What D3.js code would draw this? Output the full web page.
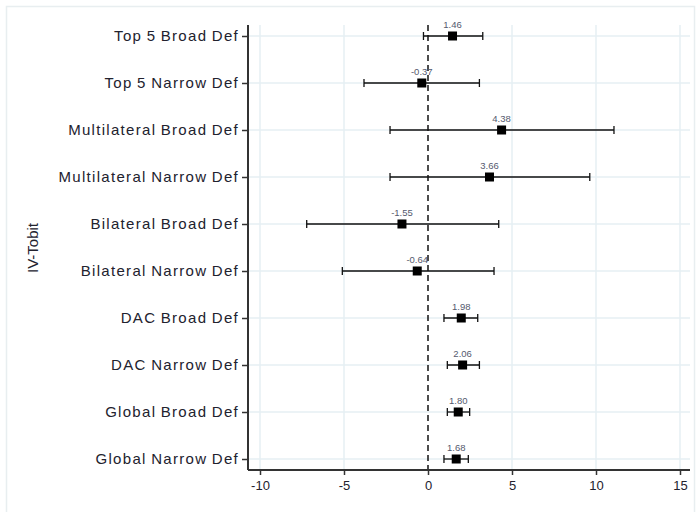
<!DOCTYPE html>
<html>
<head>
<meta charset="utf-8">
<script src="https://cdn.jsdelivr.net/npm/d3@7"></script>
<style>
  body { margin: 0; background: #fff; }
  text { font-family: "Liberation Sans", Arial, sans-serif; }
</style>
</head>
<body>
<script>
'use strict';

// chart data
const categories = [
  "Top 5 Broad Def", "Top 5 Narrow Def", "Multilateral Broad Def", "Multilateral Narrow Def",
  "Bilateral Broad Def", "Bilateral Narrow Def", "DAC Broad Def", "DAC Narrow Def",
  "Global Broad Def", "Global Narrow Def"
];
const estimates = [1.46, -0.37, 4.38, 3.66, -1.55, -0.64, 1.98, 2.06, 1.80, 1.68];
const ciLow = [-0.27, -3.81, -2.26, -2.26, -7.22, -5.10, 0.95, 1.15, 1.15, 0.95];
const ciHigh = [3.26, 3.06, 11.07, 9.63, 4.21, 3.93, 2.96, 3.06, 2.48, 2.40];
const xTicks = [-10, -5, 0, 5, 10, 15];
const yTitle = "IV-Tobit";

const width = 697, height = 512;
const plot = { left: 248, right: 690, top: 25, bottom: 470 };

const svg = d3.select('body').append('svg')
  .attr('width', width)
  .attr('height', height);

// outer frame
svg.append('rect')
  .attr('x', 6.5).attr('y', 6.5)
  .attr('width', 688).attr('height', 510)
  .attr('fill', 'none')
  .attr('stroke', '#e8eef0')
  .attr('stroke-width', 1.5);

const xScale = d3.scaleLinear()
  .domain([-10, 15])
  .range([260, 680]);

const yScale = d3.scalePoint()
  .domain(categories)
  .range([plot.top, plot.bottom])
  .padding(0.234);

// grid lines
svg.append('g').selectAll('line')
  .data(xTicks.filter(d => d !== 0))
  .enter().append('line')
  .attr('x1', d => xScale(d)).attr('x2', d => xScale(d))
  .attr('y1', plot.top).attr('y2', plot.bottom)
  .attr('stroke', '#e6eff3').attr('stroke-width', 1.5);

svg.append('g').selectAll('line')
  .data(categories)
  .enter().append('line')
  .attr('x1', plot.left).attr('x2', plot.right)
  .attr('y1', d => yScale(d)).attr('y2', d => yScale(d))
  .attr('stroke', '#e6eff3').attr('stroke-width', 1.5);

// dashed zero line
svg.append('line')
  .attr('x1', xScale(0)).attr('x2', xScale(0))
  .attr('y1', plot.top).attr('y2', plot.bottom)
  .attr('stroke', '#111').attr('stroke-width', 1.5)
  .attr('stroke-dasharray', '6,4');

// x axis
const xAxis = svg.append('g')
  .attr('transform', `translate(0, ${plot.bottom})`)
  .call(d3.axisBottom(xScale).tickValues(xTicks).tickFormat(d => String(d))
    .tickSize(5).tickPadding(6));
xAxis.select('.domain').attr('d', `M${plot.left},0H${plot.right}`);

// y axis
const yAxis = svg.append('g')
  .attr('transform', `translate(${plot.left}, 0)`)
  .call(d3.axisLeft(yScale).tickSize(6).tickPadding(3));
yAxis.select('.domain').attr('d', `M0,${plot.top}V${plot.bottom}`);

[xAxis, yAxis].forEach(a => {
  a.select('.domain').attr('stroke', '#333').attr('stroke-width', 2);
  a.selectAll('.tick line').attr('stroke', '#333').attr('stroke-width', 1.5);
  a.selectAll('.tick text').attr('fill', '#22222e');
});
yAxis.selectAll('.tick text')
  .style('font-size', '15px')
  .style('letter-spacing', '1.3px')
  .style('word-spacing', '-1px');
xAxis.selectAll('.tick text').style('font-size', '13px');

// error bars
const rows = categories.map((c, i) => ({ cat: c, est: estimates[i], lo: ciLow[i], hi: ciHigh[i] }));
const bars = svg.append('g').selectAll('g')
  .data(rows)
  .enter().append('g');

bars.append('line')
  .attr('x1', d => xScale(d.lo)).attr('x2', d => xScale(d.hi))
  .attr('y1', d => yScale(d.cat)).attr('y2', d => yScale(d.cat))
  .attr('stroke', '#111').attr('stroke-width', 1.3);

['lo', 'hi'].forEach(k => {
  bars.append('line')
    .attr('x1', d => xScale(d[k])).attr('x2', d => xScale(d[k]))
    .attr('y1', d => yScale(d.cat) - 4).attr('y2', d => yScale(d.cat) + 4)
    .attr('stroke', '#111').attr('stroke-width', 1.3);
});

const sq = 9;
bars.append('rect')
  .attr('x', d => xScale(d.est) - sq / 2)
  .attr('y', d => yScale(d.cat) - sq / 2)
  .attr('width', sq).attr('height', sq)
  .attr('fill', '#000');

bars.append('text')
  .attr('x', d => xScale(d.est))
  .attr('y', d => yScale(d.cat) - 8)
  .attr('text-anchor', 'middle')
  .style('font-size', '9.5px')
  .attr('fill', '#555a6e')
  .text(d => d.est.toFixed(2));

// y title
svg.append('text')
  .attr('transform', 'translate(38, 248) rotate(-90)')
  .attr('text-anchor', 'middle')
  .style('font-size', '15px')
  .attr('fill', '#22222e')
  .text(yTitle);
</script>
</body>
</html>
